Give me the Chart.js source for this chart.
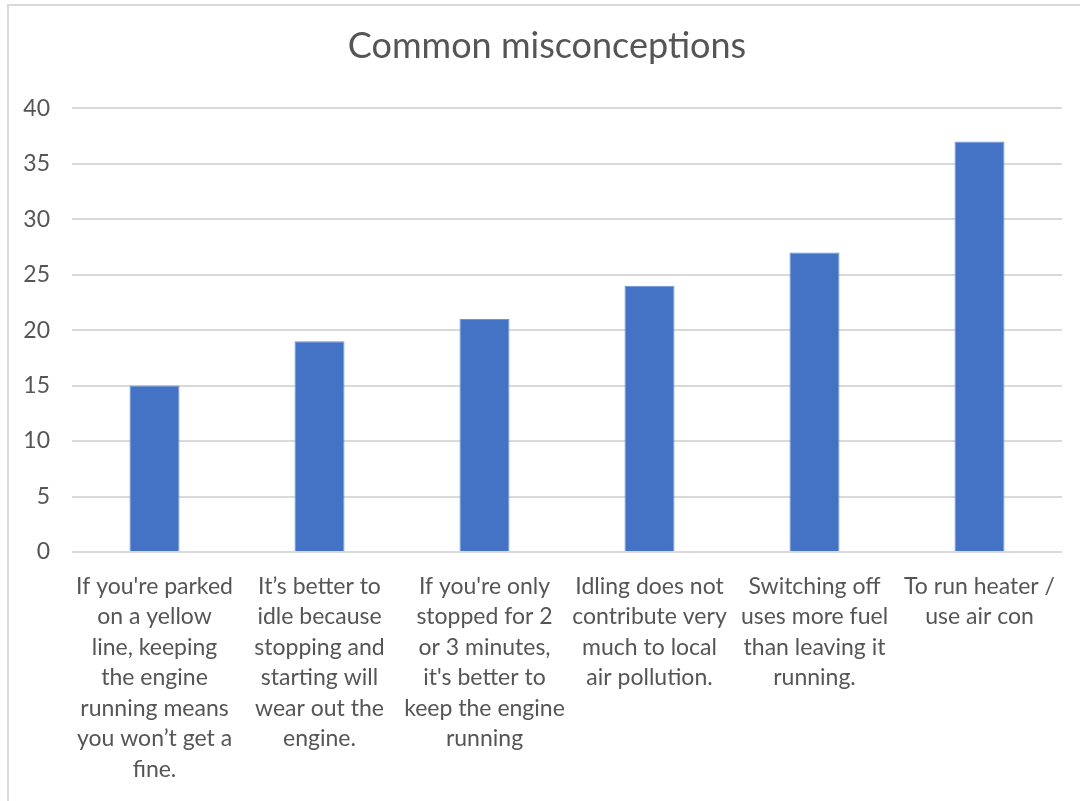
<!DOCTYPE html>
<html>
<head>
<meta charset="utf-8">
<script src="https://cdn.jsdelivr.net/npm/chart.js@4"></script>
<style>
  html, body { margin: 0; padding: 0; background: #fff; }
  #wrap { position: relative; width: 1080px; height: 801px; }
  #frame { position: absolute; left: 7px; top: 4px; right: 0; bottom: 0;
           border-top: 2px solid #d9d9d9; border-left: 2px solid #d9d9d9; pointer-events: none; }
</style>
</head>
<body>
<div id="wrap">
  <canvas id="myCanvas" width="1080" height="801"></canvas>
  <div id="frame"></div>
</div>
<script>
const titleText = "Common misconceptions";

const categories = [
  ["If you're parked", "on a yellow", "line, keeping", "the engine", "running means", "you won\u2019t get a", "fine."],
  ["It\u2019s better to", "idle because", "stopping and", "starting will", "wear out the", "engine."],
  ["If you're only", "stopped for 2", "or 3 minutes,", "it's better to", "keep the engine", "running"],
  ["Idling does not", "contribute very", "much to local", "air pollution."],
  ["Switching off", "uses more fuel", "than leaving it", "running."],
  ["To run heater /", "use air con"]
];

const values = [15, 19, 21, 24, 27, 37];

const yTicks = [0, 5, 10, 15, 20, 25, 30, 35, 40];

const textColor = "#555555";
const fontFamily = "Lato, 'Open Sans', sans-serif";

const ctx = document.getElementById("myCanvas").getContext("2d");
const chart = new Chart(ctx, {
  type: "bar",
  data: {
    labels: categories,
    datasets: [{
      label: "Count",
      data: values,
      backgroundColor: "#4472C4",
      borderColor: "#6f93d6",
      borderWidth: 1,
      categoryPercentage: 1,
      barPercentage: 0.303
    }]
  },
  options: {
    responsive: false,
    animation: false,
    // title centres between these paddings, plot edges are set by the axis widths below
    layout: { padding: { left: 21, right: 7, top: 0, bottom: 0 } },
    plugins: {
      legend: { display: false },
      tooltip: { enabled: false },
      title: {
        display: true,
        text: titleText,
        color: textColor,
        font: { family: fontFamily, size: 36, weight: "normal" },
        padding: { top: 25, bottom: 40 }
      }
    },
    scales: {
      x: {
        grid: { display: false },
        border: { display: false },
        afterFit: (scale) => { scale.height = 249; },
        ticks: {
          color: textColor,
          font: { family: fontFamily, size: 23, lineHeight: 1.326 },
          maxRotation: 0,
          autoSkip: false,
          padding: 11
        }
      },
      y: {
        min: 0,
        max: 40,
        afterBuildTicks: (scale) => { scale.ticks = yTicks.map(v => ({ value: v })); },
        afterFit: (scale) => { scale.width = 51; },
        grid: { color: "#d9d9d9", lineWidth: 2, drawTicks: false },
        border: { display: false },
        ticks: {
          color: textColor,
          font: { family: fontFamily, size: 23 },
          padding: 22
        }
      },
      // empty spacer on the right so the gridlines stop short of the edge
      spacer: {
        axis: "y",
        position: "right",
        grid: { display: false },
        border: { display: false },
        ticks: { display: false },
        afterFit: (scale) => { scale.width = 11; }
      }
    }
  }
});
</script>
</body>
</html>
